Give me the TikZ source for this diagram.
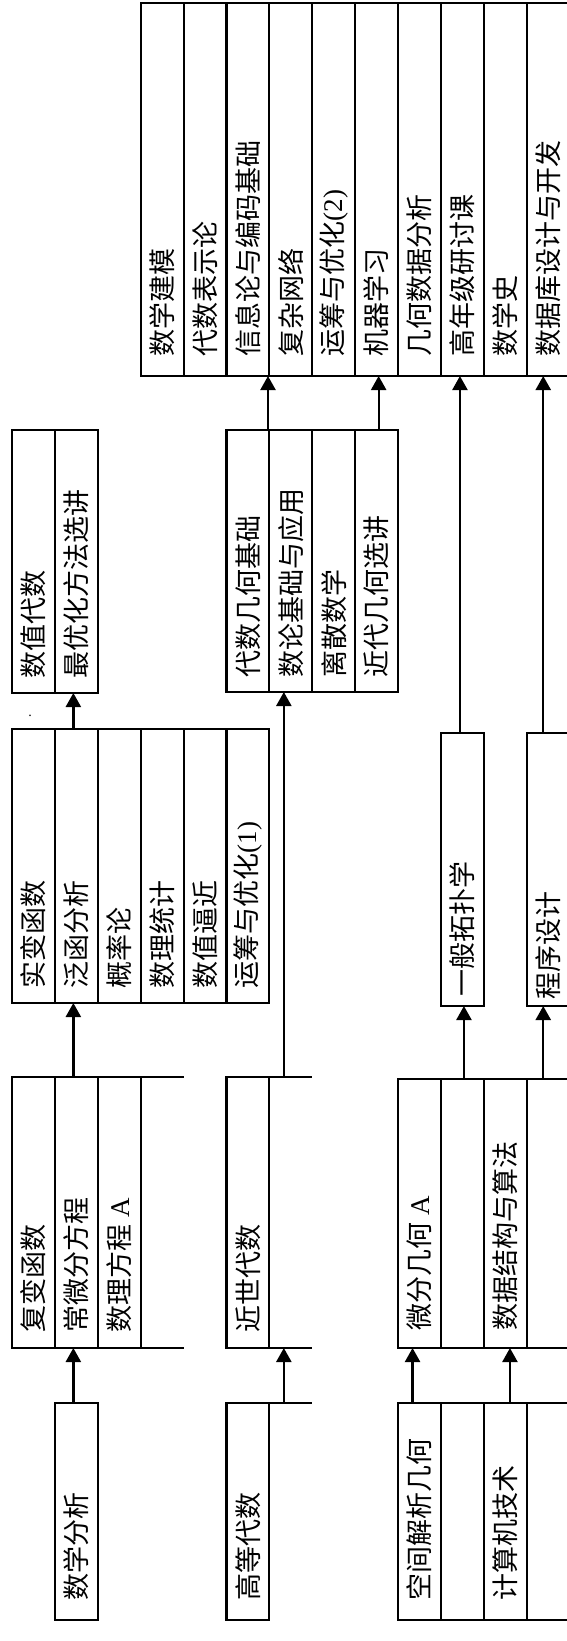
\documentclass[tikz,border=0pt]{standalone}
\usepackage{fontspec}
\usepackage{graphicx}
\setmainfont{Noto Sans CJK SC}
\newfontfamily\lat{Liberation Serif}
\usetikzlibrary{arrows.meta}
\newcommand\vt[2]{\rotatebox{90}{\makebox[#1][l]{\rule[-0.12em]{0pt}{1em}#2}}}
\begin{document}
\begin{tikzpicture}[x=1pt,y=-1pt,
  colbox/.style={draw, line width=2.1pt, minimum width=42.9pt, minimum height=#1,
    inner sep=0pt, outer sep=0pt, anchor=south west, font=\fontsize{27}{30}\selectfont},
  opencol/.style={minimum width=42.9pt, minimum height=#1, inner sep=0pt, outer sep=0pt, anchor=south west},
  boxline/.style={line width=2.1pt},
  arr/.style={line width=2.3pt, -{Triangle[length=14pt,width=15pt]}}]
\useasboundingbox (0,0) rectangle (566,1641);

% top group
\node[colbox=373pt] (t1) at (140.7,376) {\vt{333pt}{数学建模}};
\node[colbox=373pt] (t2) at (183.6,376) {\vt{333pt}{代数表示论}};
\node[colbox=373pt] (t3) at (226.5,376) {\vt{333pt}{信息论与编码基础}};
\node[colbox=373pt] (t4) at (269.4,376) {\vt{333pt}{复杂网络}};
\node[colbox=373pt] (t5) at (312.3,376) {\vt{333pt}{运筹与优化{\lat(2)}}};
\node[colbox=373pt] (t6) at (355.2,376) {\vt{333pt}{机器学习}};
\node[colbox=373pt] (t7) at (398.1,376) {\vt{333pt}{几何数据分析}};
\node[colbox=373pt] (t8) at (441.0,376) {\vt{333pt}{高年级研讨课}};
\node[colbox=373pt] (t9) at (483.9,376) {\vt{333pt}{数学史}};
\node[colbox=373pt] (t10) at (526.8,376) {\vt{333pt}{数据库设计与开发}};

% second row
\node[colbox=263pt] (nd1) at (12,693) {\vt{233pt}{数值代数}};
\node[colbox=263pt] (nd2) at (54.9,693) {\vt{233pt}{最优化方法选讲}};
\node[colbox=262pt] (ag1) at (226.5,692) {\vt{232pt}{代数几何基础}};
\node[colbox=262pt] (ag2) at (269.4,692) {\vt{232pt}{数论基础与应用}};
\node[colbox=262pt] (ag3) at (312.3,692) {\vt{232pt}{离散数学}};
\node[colbox=262pt] (ag4) at (355.2,692) {\vt{232pt}{近代几何选讲}};
\node (dot) at (30,716) {\lat\fontsize{14}{14}\selectfont .};

% third row
\node[colbox=274pt] (r1) at (12,1003) {\vt{244pt}{实变函数}};
\node[colbox=274pt] (r2) at (54.9,1003) {\vt{244pt}{泛函分析}};
\node[colbox=274pt] (r3) at (97.8,1003) {\vt{244pt}{概率论}};
\node[colbox=274pt] (r4) at (140.7,1003) {\vt{244pt}{数理统计}};
\node[colbox=274pt] (r5) at (183.6,1003) {\vt{244pt}{数值逼近}};
\node[colbox=274pt] (r6) at (226.5,1003) {\vt{244pt}{运筹与优化{\lat(1)}}};
\node[colbox=273pt] (topo) at (441.0,1006) {\vt{253pt}{一般拓扑学}};
\node[colbox=273pt] (prog) at (526.8,1006) {\vt{259pt}{程序设计}};

% fourth row
\node[colbox=271pt] (c1) at (12,1348) {\vt{239pt}{复变函数}};
\node[colbox=271pt] (c2) at (54.9,1348) {\vt{239pt}{常微分方程}};
\node[colbox=271pt] (c3) at (97.8,1348) {\vt{239pt}{数理方程 {\lat A}}};
\node[opencol=271pt] (c4) at (140.7,1348) {};
\draw[boxline] (c4.north west) -- (c4.north east) (c4.south west) -- (c4.south east);
\node[colbox=271pt] (m1) at (226.5,1348) {\vt{239pt}{近世代数}};
\node[opencol=271pt] (m2) at (269.4,1348) {};
\draw[boxline] (m2.north west) -- (m2.north east) (m2.south west) -- (m2.south east);
\node[colbox=269pt] (d1) at (398.1,1348) {\vt{233pt}{微分几何 {\lat A}}};
\node[colbox=269pt] (d2) at (441.0,1348) {};
\node[colbox=269pt] (d3) at (483.9,1348) {\vt{233pt}{数据结构与算法}};
\node[colbox=269pt] (d4) at (526.8,1348) {};

% bottom row
\node[colbox=217pt] (ma) at (54.9,1620) {\vt{177pt}{数学分析}};
\node[colbox=217pt] (ha) at (226.5,1620) {\vt{177pt}{高等代数}};
\node[opencol=217pt] (ha2) at (269.4,1620) {};
\draw[boxline] (ha2.north west) -- (ha2.north east);
\node[colbox=217pt] (s1) at (398.1,1620) {\vt{177pt}{空间解析几何}};
\node[colbox=217pt] (s2) at (441.0,1620) {};
\node[colbox=217pt] (s3) at (483.9,1620) {\vt{177pt}{计算机技术}};
\node[colbox=217pt] (s4) at (526.8,1620) {};

% arrows
\coordinate (a1) at ([xshift=-3pt]ma.north);
\draw[arr] (a1) -- (a1 |- c2.south);
\coordinate (a2) at ([xshift=-7pt]ha2.north);
\draw[arr] (a2) -- (a2 |- m2.south);
\coordinate (a3) at ([xshift=-7pt]s1.north);
\draw[arr] (a3) -- (a3 |- d1.south);
\coordinate (a4) at ([xshift=4.6pt]s3.north);
\draw[arr] (a4) -- (a4 |- d3.south);
\coordinate (a5) at ([xshift=-3pt]c2.north);
\draw[arr] (a5) -- (a5 |- r2.south);
\coordinate (a6) at ([xshift=-7pt]m2.north);
\draw[arr] (a6) -- (a6 |- ag2.south);
\coordinate (a7) at ([xshift=1.5pt]d2.north);
\draw[arr] (a7) -- (a7 |- topo.south);
\coordinate (a8) at ([xshift=-5pt]d4.north);
\draw[arr] (a8) -- (a8 |- prog.south);
\coordinate (a9) at ([xshift=-3pt]r2.north);
\draw[arr] (a9) -- (a9 |- nd2.south);
\coordinate (a10) at ([xshift=-1.4pt]ag1.north east);
\draw[arr] (a10) -- (a10 |- t3.south);
\coordinate (a11) at ([xshift=2pt]ag4.north);
\draw[arr] (a11) -- (a11 |- t6.south);
\coordinate (a12) at ([xshift=-2.5pt]topo.north);
\draw[arr] (a12) -- (a12 |- t8.south);
\coordinate (a13) at ([xshift=-5pt]prog.north);
\draw[arr] (a13) -- (a13 |- t10.south);
\end{tikzpicture}
\end{document}
